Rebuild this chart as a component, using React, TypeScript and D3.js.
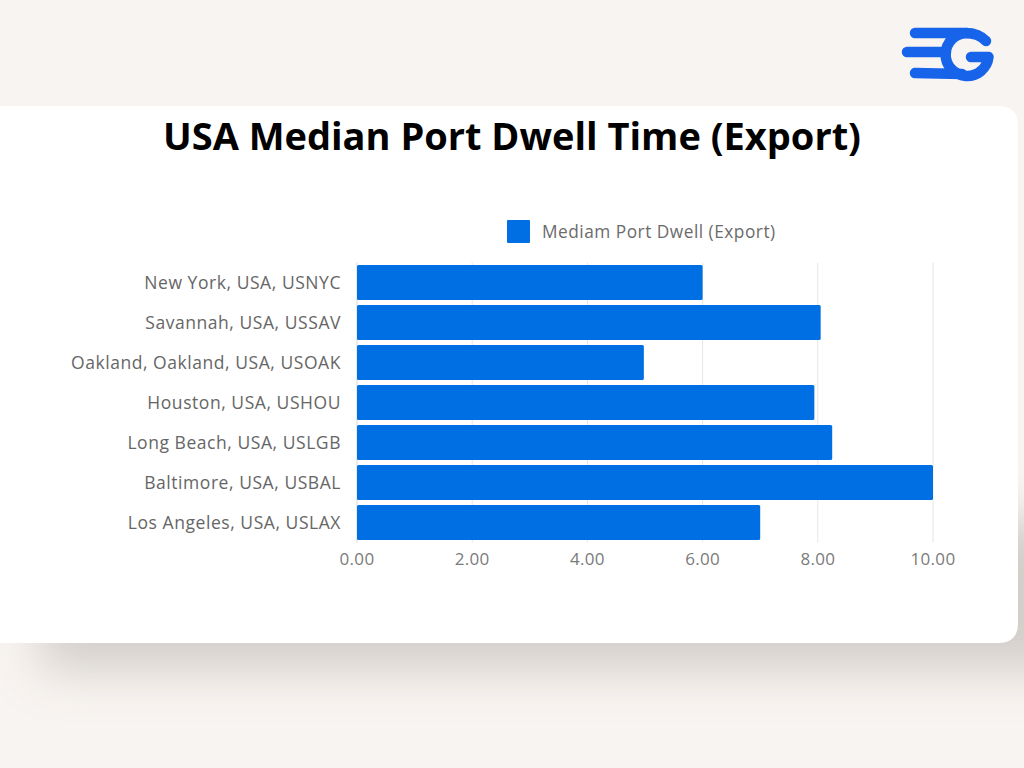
import React from "react";
import * as d3 from "d3";

const categories = [
  "New York, USA, USNYC",
  "Savannah, USA, USSAV",
  "Oakland, Oakland, USA, USOAK",
  "Houston, USA, USHOU",
  "Long Beach, USA, USLGB",
  "Baltimore, USA, USBAL",
  "Los Angeles, USA, USLAX",
];
const values = [6.0, 8.05, 4.98, 7.94, 8.25, 10.0, 7.0];
const xTicks = [0, 2, 4, 6, 8, 10];
const seriesName = "Mediam Port Dwell (Export)";
const title = "USA Median Port Dwell Time (Export)";

const W = 1024;
const H = 768;
const BLUE = "#006fe3";
const FONT = "'Open Sans', 'DejaVu Sans', sans-serif";

export default function App() {
  const x = d3.scaleLinear().domain([0, 10]).range([357, 933]);
  const y = d3
    .scaleBand<string>()
    .domain(categories)
    .range([262.5, 542.5])
    .paddingInner(0.125)
    .paddingOuter(0.0625);

  const cardRight = 1018;
  const cardTop = 106;
  const cardBottom = 643;
  const r = 20;
  const cardPath = `M -10 ${cardTop} L ${cardRight - r} ${cardTop} Q ${cardRight} ${cardTop} ${cardRight} ${cardTop + r} L ${cardRight} ${cardBottom - r} Q ${cardRight} ${cardBottom} ${cardRight - r} ${cardBottom} L -10 ${cardBottom} Z`;

  return (
    <svg
      width={W}
      height={H}
      viewBox={`0 0 ${W} ${H}`}
      style={{ position: "absolute", left: 0, top: 0, display: "block" }}
    >
      <defs>
        <filter id="shadow" x="-20%" y="-50%" width="140%" height="200%">
          <feGaussianBlur stdDeviation="24" />
        </filter>
      </defs>
      <rect x={0} y={0} width={W} height={H} fill="#f8f4f1" />
      {/* shadow */}
      <rect
        x={40}
        y={520}
        width={1040}
        height={150}
        fill="#cfcac5"
        opacity={0.9}
        filter="url(#shadow)"
      />
      {/* card */}
      <path d={cardPath} fill="#ffffff" />

      {/* logo */}
      <g
        fill="none"
        stroke="#1763ea"
        strokeWidth={10.5}
        strokeLinecap="round"
        strokeLinejoin="round"
      >
        <path d="M 915 33 L 962 33 Q 978 32 986 41" />
        <path d="M 907 52 L 946 52" />
        <path d="M 915 73 L 962 74" />
        <path d="M 967 33 A 21.5 21.5 0 1 0 988.5 57 L 971 57" />
      </g>

      {/* title */}
      <text
        x={512}
        y={150}
        textAnchor="middle"
        fontFamily="'Open Sans', sans-serif"
        fontWeight={700}
        fontSize={38}
        fill="#000"
        textLength={698}
        lengthAdjust="spacingAndGlyphs"
      >
        {title}
      </text>

      {/* legend */}
      <rect x={507} y={220} width={23} height={23} fill={BLUE} rx={1} />
      <text
        x={542}
        y={238}
        fontFamily={FONT}
        fontSize={17.3}
        letterSpacing={0.5}
        fill="#6b6b6b"
      >
        {seriesName}
      </text>

      {/* gridlines */}
      {xTicks.map((t) => (
        <line
          key={"g" + t}
          x1={x(t)}
          x2={x(t)}
          y1={262.5}
          y2={542.5}
          stroke={t === 0 ? "#d6d6d6" : "#e6e6e6"}
          strokeWidth={1}
        />
      ))}

      {/* bars */}
      {categories.map((c, i) => (
        <rect
          key={c}
          x={x(0)}
          y={y(c)}
          width={x(values[i]) - x(0)}
          height={y.bandwidth()}
          fill={BLUE}
          rx={1.5}
        />
      ))}

      {/* category labels */}
      {categories.map((c) => (
        <text
          key={"l" + c}
          x={341}
          y={(y(c) as number) + y.bandwidth() / 2}
          dy="0.35em"
          textAnchor="end"
          fontFamily={FONT}
          fontSize={17.5}
          letterSpacing={0.55}
          fill="#666666"
        >
          {c}
        </text>
      ))}

      {/* tick labels */}
      {xTicks.map((t) => (
        <text
          key={"t" + t}
          x={x(t)}
          y={565}
          textAnchor="middle"
          fontFamily={FONT}
          fontSize={17}
          letterSpacing={0.3}
          fill="#7a7a7a"
        >
          {d3.format(".2f")(t)}
        </text>
      ))}
    </svg>
  );
}
